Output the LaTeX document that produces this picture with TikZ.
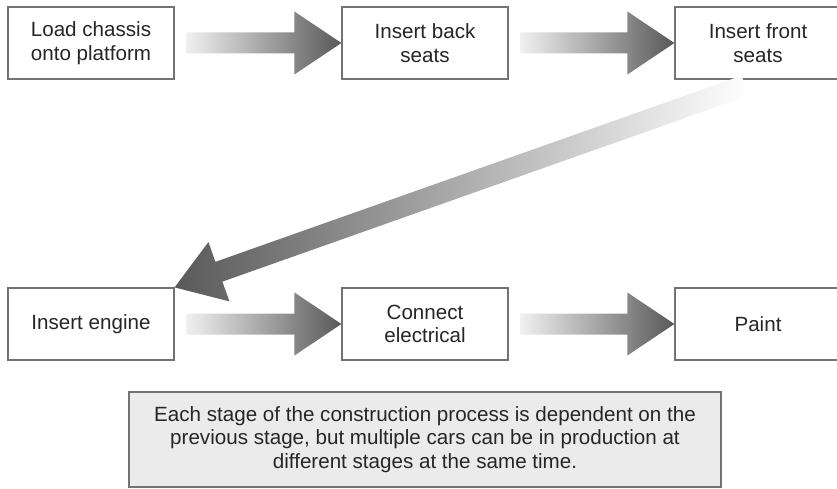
\documentclass[tikz,border=0pt]{standalone}
\usepackage{fontspec}
\setmainfont{Liberation Sans}
\usepackage{tikz}
\usetikzlibrary{calc}
\tikzset{%
  stagebox/.style = {shape=rectangle, draw=black!55, line width=1.2pt,%
                     fill=white, text=black!85, align=center,%
                     minimum width=166, minimum height=72,%
                     font=\fontsize{20.6}{23.5}\selectfont},%
  notebox/.style  = {stagebox, fill=black!8, minimum width=592, minimum height=95},%
  fadearrow/.style = {left color=black!6, right color=black!65}%
}
% shaded block arrow: #2 tail, #3 tip
\newcommand{\bigarrow}[3][]{%
	\shade[fadearrow,#1] let \p1=#2, \p2=#3, \n1={atan2(\y1-\y2,\x1-\x2)} in
		($(\p1)+(\n1+90:10.5pt)$) -- ($(\p2)+(\n1:47pt)+(\n1+90:10.5pt)$)
		-- ($(\p2)+(\n1:47pt)+(\n1+90:31.5pt)$) -- (\p2)
		-- ($(\p2)+(\n1:47pt)+(\n1-90:31.5pt)$) -- ($(\p2)+(\n1:47pt)+(\n1-90:10.5pt)$)
		-- ($(\p1)+(\n1-90:10.5pt)$) -- cycle;}

\begin{document}
\begin{tikzpicture}[x=1pt,y=1pt]
	\useasboundingbox (0,0) rectangle (837,488);
	\node [stagebox] (load)  at (91,445)  {Load chassis\\onto platform};
	\node [stagebox] (back)  at (425,445) {Insert back\\seats};
	\node [stagebox] (front) at (758,445) {Insert front\\seats};
	\node [stagebox] (engine)  at (91,164)  {Insert engine};
	\node [stagebox] (connect) at (425,164) {Connect\\electrical};
	\node [stagebox] (paint)   at (758,164) {Paint};
	\node [notebox] (note) at (425,48.5) {Each stage of the construction process is dependent on the\\
		previous stage, but multiple cars can be in production at\\
		different stages at the same time.};
	\bigarrow{($(load.east)+(12,0)$)}{(back.west)}
	\bigarrow{($(back.east)+(12,0)$)}{(front.west)}
	\bigarrow[left color=black!65, right color=white]{($(front.south)+(-13,-6)$)}{(engine.north east)}
	\bigarrow{($(engine.east)+(12,0)$)}{(connect.west)}
	\bigarrow{($(connect.east)+(12,0)$)}{(paint.west)}
\end{tikzpicture}
\end{document}
